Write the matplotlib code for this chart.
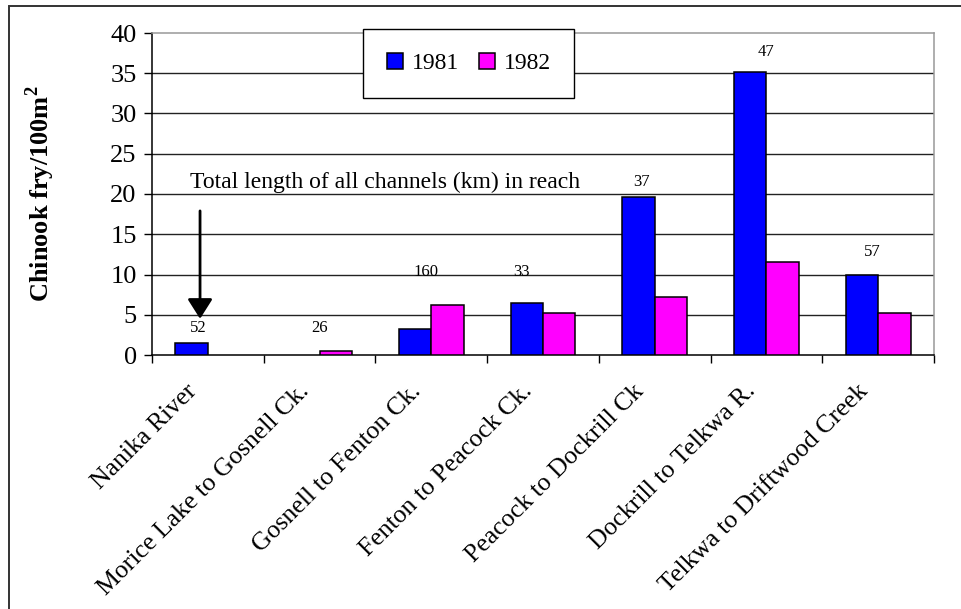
import matplotlib
matplotlib.use('agg')
import matplotlib.pyplot as plt
from matplotlib.patches import Rectangle, Patch
import matplotlib.transforms as mtransforms
import numpy as np

# data
reaches = ['Nanika River', 'Morice Lake to Gosnell Ck.', 'Gosnell to Fenton Ck.',
           'Fenton to Peacock Ck.', 'Peacock to Dockrill Ck', 'Dockrill to Telkwa R.',
           'Telkwa to Driftwood Creek']
fry_1981 = [1.5, 0.0, 3.2, 6.5, 19.6, 35.2, 10.0]
fry_1982 = [0.0, 0.5, 6.25, 5.2, 7.2, 11.6, 5.2]
channel_km = ['52', '26', '160', '33', '37', '47', '57']

# where the km labels sit (category offset, y value)
km_dx = [-0.09, 0.0, -0.05, -0.19, -0.12, 0.0, -0.05]
km_y = [3.4, 3.4, 10.3, 10.3, 21.5, 37.7, 12.8]

blue = '#0000ff'
pink = '#ff00ff'

plt.rcParams['font.family'] = ['Liberation Serif', 'DejaVu Serif']
plt.rcParams['mathtext.fontset'] = 'custom'
plt.rcParams['mathtext.rm'] = 'Liberation Serif'
plt.rcParams['mathtext.bf'] = 'Liberation Serif:bold'

fig = plt.figure(figsize=(9.61, 6.09), dpi=100)
ax = fig.add_axes([152/961, 1-355/609, (934-152)/961, (355-33)/609])

# outer frame of the chart area
fig.patches.append(Rectangle((9/961, -0.1), 1.2, 1-5.7/609+0.1, transform=fig.transFigure,
                             fill=False, edgecolor='#333333', lw=1.4, clip_on=False))

x = np.arange(len(reaches))
w = 0.29
b1 = ax.bar(x - w/2, fry_1981, w, color=blue, edgecolor='black', lw=1.1, zorder=3)
b2 = ax.bar(x + w/2, fry_1982, w, color=pink, edgecolor='black', lw=1.1, zorder=3)
# empty bars are not drawn in the original
for p in list(b1) + list(b2):
    if p.get_height() == 0:
        p.set_visible(False)

ax.set_xlim(-0.5, 6.5)
ax.set_ylim(0, 40)
ax.set_yticks(np.arange(0, 41, 5))
for v in range(5, 40, 5):
    ax.axhline(v, color='#222222', lw=1.0, zorder=1)

ax.spines['top'].set_color('#999999')
ax.spines['right'].set_color('#999999')
ax.spines['left'].set_color('black')
ax.spines['bottom'].set_color('black')
for s in ax.spines.values():
    s.set_linewidth(1.1)

ax.tick_params(axis='y', direction='out', length=6, width=1, labelsize=19, pad=5)
ax.set_xticks(x)
ax.set_xticklabels(reaches, rotation=45, ha='right', va='center', rotation_mode='anchor', fontsize=18.5)
ax.tick_params(axis='x', which='major', length=0, pad=25)
shift = mtransforms.ScaledTranslation(-14/100, 2/100, fig.dpi_scale_trans)
for lab in ax.get_xticklabels():
    lab.set_transform(lab.get_transform() + shift)
ax.set_xticks(np.arange(-0.5, 7, 1), minor=True)
ax.tick_params(axis='x', which='minor', direction='out', length=6, width=1)

for i in range(len(reaches)):
    ax.text(x[i] + km_dx[i], km_y[i], channel_km[i], ha='center', va='center', fontsize=12, zorder=4)

ax.text(-0.16, 21.4, 'Total length of all channels (km) in reach', ha='left', va='center', fontsize=17, zorder=4)
ax.annotate('', xy=(-0.07, 4.5), xytext=(-0.07, 17.9),
            arrowprops=dict(arrowstyle='-|>,head_length=0.6,head_width=0.38', color='black',
                            lw=2, shrinkA=0, shrinkB=0, mutation_scale=20), zorder=4)

fig.text(40/961, 1-194/609, r'Chinook fry/100m$^\mathbf{2}$', rotation=90, ha='center', va='center',
         fontsize=19, fontweight='bold')

handles = [Patch(facecolor=blue, edgecolor='black', lw=1.1, label='1981'),
           Patch(facecolor=pink, edgecolor='black', lw=1.1, label='1982')]
leg = ax.legend(handles=handles, loc='upper left', bbox_to_anchor=(0.27, 1.012), ncol=2, fontsize=17,
                frameon=True, fancybox=False, edgecolor='black', framealpha=1, handlelength=0.7,
                handleheight=0.7, handletextpad=0.35, columnspacing=0.85, borderpad=1.0, borderaxespad=0)
leg.get_frame().set_linewidth(1.0)
leg.set_zorder(5)

plt.savefig('out.png', dpi=100)
